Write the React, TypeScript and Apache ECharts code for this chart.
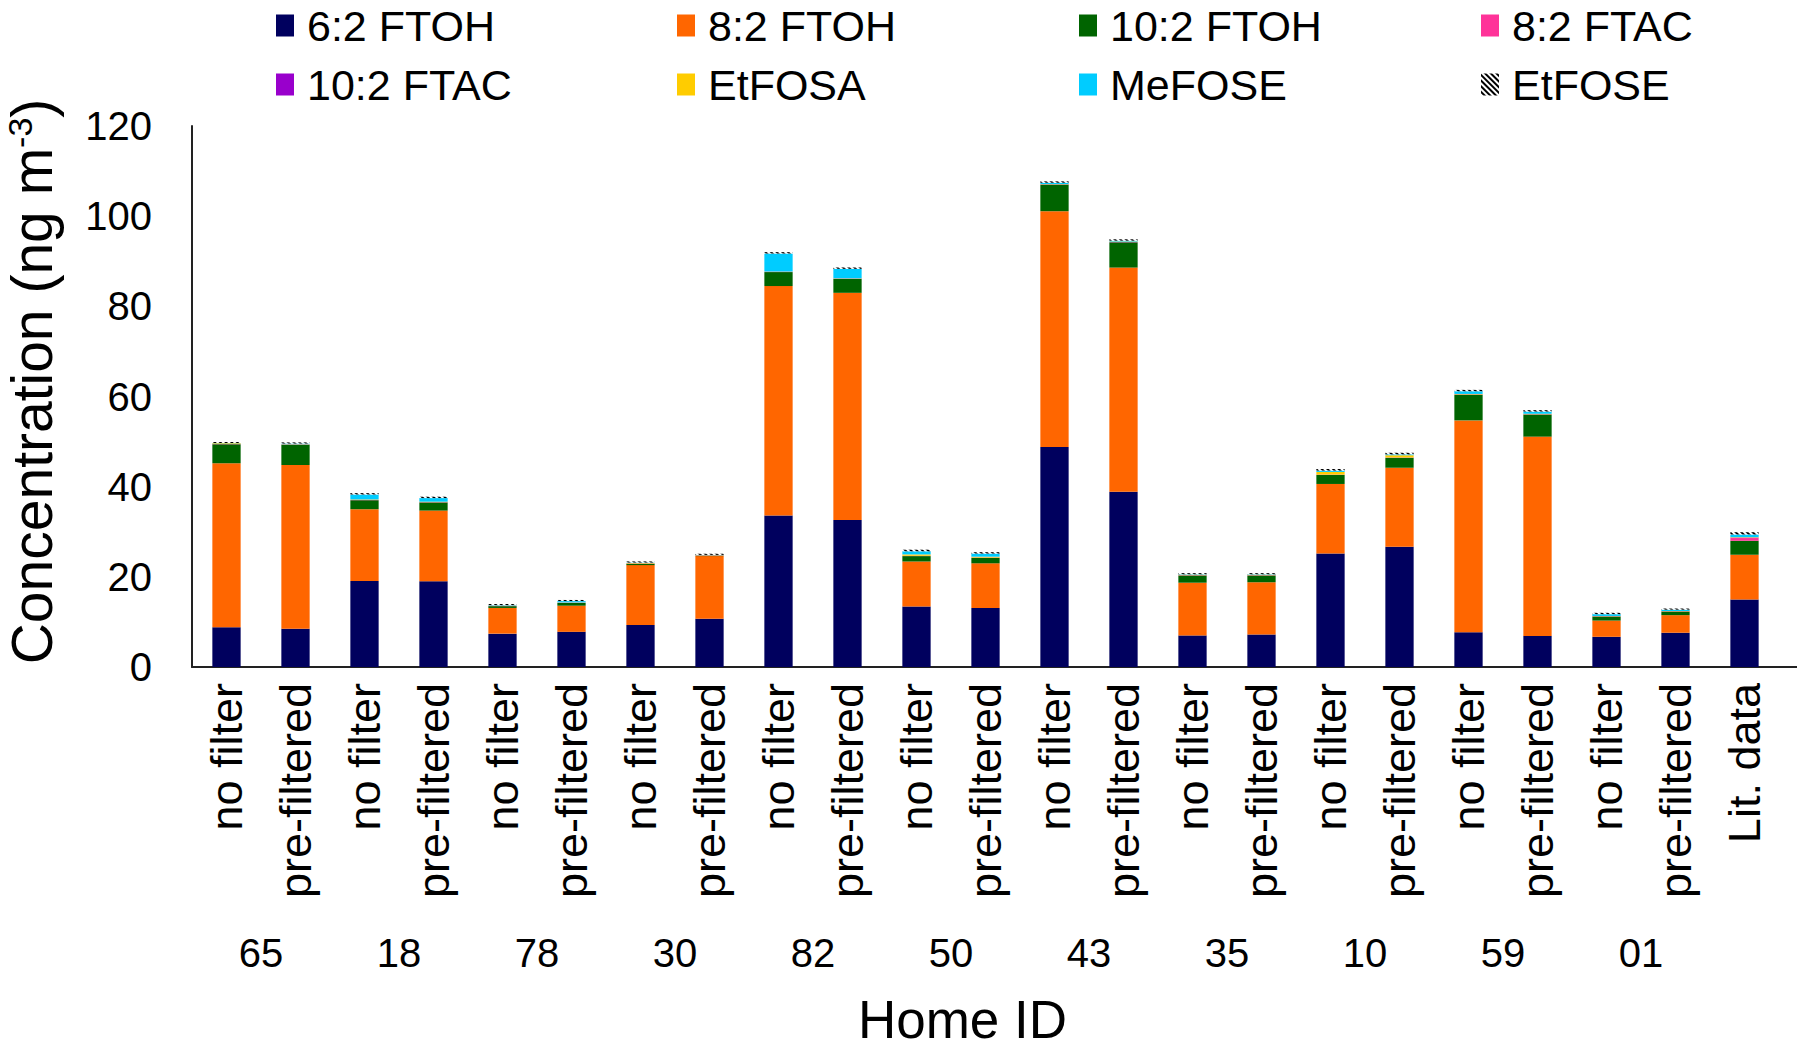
import React, { useEffect, useRef } from "react";
import * as echarts from "echarts";

const categories = [
  "no filter", "pre-filtered", "no filter", "pre-filtered", "no filter", "pre-filtered",
  "no filter", "pre-filtered", "no filter", "pre-filtered", "no filter", "pre-filtered",
  "no filter", "pre-filtered", "no filter", "pre-filtered", "no filter", "pre-filtered",
  "no filter", "pre-filtered", "no filter", "pre-filtered", "Lit. data",
];
const homeIds = ["65", "18", "78", "30", "82", "50", "43", "35", "10", "59", "01"];
const yTicks = [0, 20, 40, 60, 80, 100, 120];

const ftoh62 = [8.8, 8.5, 19.1, 19.0, 7.4, 7.8, 9.3, 10.7, 33.6, 32.6, 13.4, 13.1, 48.8, 38.9, 7.0, 7.2, 25.2, 26.7, 7.7, 6.9, 6.7, 7.6, 15.0];
const ftoh82 = [36.4, 36.3, 15.9, 15.7, 5.7, 5.8, 13.3, 13.9, 50.9, 50.4, 10.0, 9.9, 52.3, 49.7, 11.7, 11.6, 15.4, 17.5, 47.0, 44.2, 3.6, 3.9, 9.9];
const ftoh102 = [4.2, 4.5, 2.0, 1.8, 0.4, 0.6, 0.3, 0.1, 3.1, 3.1, 1.2, 1.2, 5.9, 5.6, 1.6, 1.5, 2.0, 2.2, 5.7, 4.9, 0.9, 0.8, 3.1];
const ftac82 = [0.05, 0.05, 0.05, 0.05, 0.05, 0.05, 0.05, 0.05, 0.05, 0.05, 0.05, 0.05, 0.05, 0.05, 0.05, 0.05, 0.05, 0.05, 0.05, 0.05, 0.05, 0.05, 0.6];
const ftac102 = [0.02, 0.02, 0.02, 0.02, 0.02, 0.02, 0.02, 0.02, 0.02, 0.02, 0.02, 0.02, 0.02, 0.02, 0.02, 0.02, 0.02, 0.02, 0.02, 0.02, 0.02, 0.02, 0.1];
const etfosa = [0.15, 0.05, 0.1, 0.1, 0.05, 0.05, 0.1, 0.05, 0.05, 0.05, 0.3, 0.2, 0.05, 0.1, 0.1, 0.1, 0.6, 0.5, 0.1, 0.1, 0.05, 0.05, 0.1];
const mefose = [0.05, 0.15, 1.1, 0.8, 0.1, 0.3, 0.1, 0.05, 4.0, 2.1, 0.7, 0.7, 0.3, 0.2, 0.1, 0.1, 0.3, 0.2, 0.6, 0.5, 0.4, 0.3, 0.6];
const etfose = [0.25, 0.25, 0.3, 0.3, 0.25, 0.25, 0.25, 0.25, 0.3, 0.3, 0.35, 0.3, 0.3, 0.3, 0.25, 0.25, 0.35, 0.35, 0.3, 0.3, 0.3, 0.25, 0.5];

const seriesNames = ["6:2 FTOH", "8:2 FTOH", "10:2 FTOH", "8:2 FTAC", "10:2 FTAC", "EtFOSA", "MeFOSE", "EtFOSE"];
const seriesData = [ftoh62, ftoh82, ftoh102, ftac82, ftac102, etfosa, mefose, etfose];
const seriesColors = ["#00005E", "#FF6600", "#006400", "#FF3399", "#9900CC", "#FFCC00", "#00CCFF", "#FFFFFF"];

const FONT = "'Liberation Sans', Arial, sans-serif";

export default function App() {
  const ref = useRef<HTMLDivElement>(null);
  useEffect(() => {
    document.body.style.margin = "0";
    const chart = echarts.init(ref.current!, undefined, { renderer: "svg" });
    const legendLeft = [276, 677, 1079, 1481];
    const legendTop = [4, 63];
    const legends = seriesNames.map((n, i) => ({
      data: [n],
      left: legendLeft[i % 4],
      top: legendTop[Math.floor(i / 4)],
      padding: 0,
      itemWidth: 18,
      itemHeight: 22,
      itemGap: 0,
      icon: "rect",
      textStyle: { fontFamily: FONT, fontSize: 43, lineHeight: 40, color: "#000", padding: [0, 0, 0, 8] },
    }));
    const series = seriesNames.map((n, i) => ({
      name: n,
      type: "bar",
      stack: "total",
      data: seriesData[i],
      barWidth: "41%",
      itemStyle:
        n === "EtFOSE"
          ? {
              color: "#FFFFFF",
              decal: {
                symbol: "rect",
                symbolSize: 1,
                dashArrayX: [1, 0],
                dashArrayY: [2, 2],
                rotation: Math.PI / 4,
                color: "#000000",
                backgroundColor: "#FFFFFF",
              },
            }
          : { color: seriesColors[i] },
    }));
    const gridLeft = 192;
    const gridTop = 126;
    const gridWidth = 1587;
    const gridHeight = 541;
    chart.setOption({
      animation: false,
      backgroundColor: "#ffffff",
      legend: legends,
      grid: {
        left: gridLeft,
        top: gridTop,
        width: gridWidth,
        height: gridHeight,
        containLabel: false,
        outerBoundsMode: "none",
      },
      xAxis: [
        {
          type: "category",
          data: categories,
          axisLine: { show: true, lineStyle: { color: "#222", width: 2 } },
          axisTick: { show: false },
          axisLabel: { interval: 0, rotate: 90, fontSize: 45, fontFamily: FONT, color: "#000", margin: 16 },
        },
        {
          type: "value",
          position: "bottom",
          min: 0,
          max: 23,
          interval: 1,
          axisLine: { show: false },
          axisTick: { show: false },
          splitLine: { show: false },
          axisLabel: {
            fontSize: 40,
            fontFamily: FONT,
            color: "#000",
            margin: 266,
            showMinLabel: true,
            showMaxLabel: true,
            formatter: (v: number) => {
              if (v % 2 === 1 && (v - 1) / 2 < homeIds.length) return homeIds[(v - 1) / 2];
              return "";
            },
          },
          name: "Home ID",
          nameLocation: "middle",
          nameGap: 326,
          nameTextStyle: { fontSize: 53, lineHeight: 52, fontFamily: FONT, color: "#000", padding: [0, 46, 0, 0] },
        },
      ],
      yAxis: {
        type: "value",
        min: yTicks[0],
        max: yTicks[yTicks.length - 1],
        interval: 20,
        axisLine: { show: true, lineStyle: { color: "#222", width: 2 } },
        axisTick: { show: false },
        splitLine: { show: false },
        axisLabel: { fontSize: 40, fontFamily: FONT, color: "#000", margin: 40 },
        name: "{t|Concentration (ng m}{s|-3}{t|)}",
        nameLocation: "middle",
        nameRotate: 90,
        nameGap: 131,
        nameTextStyle: {
          padding: [0, 0, 0, 30],
          rich: {
            t: { fontSize: 57, lineHeight: 58, fontFamily: FONT, color: "#000" },
            s: { fontSize: 34, lineHeight: 34, fontFamily: FONT, color: "#000", verticalAlign: "top" },
          },
        },
      },
      series,
    });
    const y0 = gridTop + gridHeight;
    const xEnd = gridLeft + gridWidth;
    chart.setOption({
      graphic: [
        {
          type: "line",
          shape: { x1: xEnd - 1, y1: y0, x2: 1797, y2: y0 },
          style: { stroke: "#222", lineWidth: 2 },
        },
      ],
    });
    return () => chart.dispose();
  }, []);
  return <div ref={ref} style={{ width: 1800, height: 1052 }} />;
}
